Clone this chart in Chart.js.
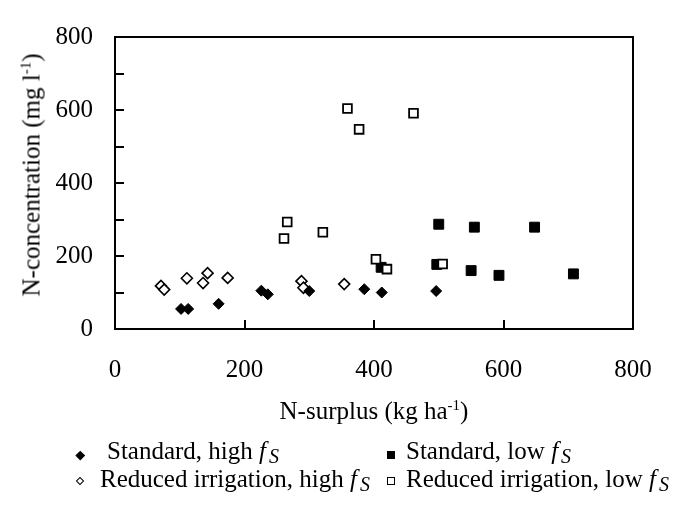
<!DOCTYPE html>
<html>
<head>
<meta charset="utf-8">
<script src="https://cdn.jsdelivr.net/npm/chart.js@4.4.1/dist/chart.umd.min.js"></script>
<style>
    html, body { margin: 0; padding: 0; background: #fff; }
    #wrap { position: relative; width: 679px; height: 510px; font-family: 'Liberation Serif', 'Times New Roman', serif; color: #000; }
    #MyChart { position: absolute; left: 0; top: 0; }
    .atitle { position: absolute; font-size: 25px; line-height: 1; white-space: nowrap; transform: translate(-50%, -50%); }
    .atitle sup { font-size: 0.6em; vertical-align: 0.6em; line-height: 0; }
    #ytitle { left: 31px; top: 175px; transform: translate(-50%, -50%) rotate(-90deg); }
    #xtitle { left: 374px; top: 410px; }
    .item { position: absolute; font-size: 25px; line-height: 25px; white-space: nowrap; }
    .item i { font-style: italic; }
    .item sub { font-size: 0.8em; font-style: italic; vertical-align: -0.2em; line-height: 0; margin-left: 3px; }
    .mark { position: absolute; box-sizing: border-box; }
</style>
</head>
<body>
<div id="wrap">
    <canvas id="MyChart" width="679" height="510"></canvas>
    <div class="atitle" id="ytitle">N-concentration (mg l<sup>-1</sup>)</div>
    <div class="atitle" id="xtitle">N-surplus (kg ha<sup>-1</sup>)</div>
    <div id="legend"></div>
</div>
<script>
// N-surplus (kg/ha) and N-concentration (mg/l)
var stdHighX = [102, 113, 160, 226, 236, 300, 385, 412, 496];
var stdHighY = [55, 55, 69, 105, 95, 104, 109, 100, 104];
var stdLowX = [500, 555, 648, 411, 497, 550, 593, 708];
var stdLowY = [287, 279, 279, 169, 177, 160, 147, 151];
var redHighX = [71, 76, 111, 136, 143, 174, 288, 291, 354];
var redHighY = [118, 108, 139, 126, 153, 140, 131, 113, 123];
var redLowX = [261, 266, 321, 403, 420, 506, 359, 377, 461];
var redLowY = [248, 293, 265, 191, 164, 178, 604, 547, 591];

var seriesNames = ['Standard, high', 'Standard, low', 'Reduced irrigation, high', 'Reduced irrigation, low'];
var axisTicks = [0, 200, 400, 600, 800];

function pts(xs, ys) {
    return xs.map(function (v, i) { return { x: v, y: ys[i] }; });
}

// box round the plot plus the small inward tick marks
var boxTicks = {
    id: 'boxTicks',
    beforeDatasetsDraw: function (chart) {
        var ctx = chart.ctx, a = chart.chartArea, x = chart.scales.x, y = chart.scales.y;
        ctx.save();
        ctx.strokeStyle = '#000';
        ctx.lineWidth = 2;
        ctx.strokeRect(a.left, a.top, a.right - a.left, a.bottom - a.top);
        ctx.beginPath();
        for (var v = 100; v < 800; v += 100) {
            var py = Math.round(y.getPixelForValue(v));
            ctx.moveTo(a.left, py);
            ctx.lineTo(a.left + 9, py);
        }
        for (var k = 1; k < axisTicks.length - 1; k++) {
            var px = Math.round(x.getPixelForValue(axisTicks[k]));
            ctx.moveTo(px, a.bottom);
            ctx.lineTo(px, a.bottom - 9);
        }
        ctx.stroke();
        ctx.restore();
    }
};

Chart.defaults.font.family = "'Liberation Serif', 'Times New Roman', serif";
Chart.defaults.font.size = 25;
Chart.defaults.color = '#000';

var datasets = [
    { label: seriesNames[0], data: pts(stdHighX, stdHighY), pointStyle: 'rectRot', pointRadius: 5.5,
      backgroundColor: '#000', borderColor: '#000', borderWidth: 1, order: 2 },
    { label: seriesNames[1], data: pts(stdLowX, stdLowY), pointStyle: 'rect', pointRadius: 7,
      backgroundColor: '#000', borderColor: '#000', borderWidth: 1, order: 1 },
    { label: seriesNames[2], data: pts(redHighX, redHighY), pointStyle: 'rectRot', pointRadius: 5.5,
      backgroundColor: '#fff', borderColor: '#000', borderWidth: 1.6, order: 3 },
    { label: seriesNames[3], data: pts(redLowX, redLowY), pointStyle: 'rect', pointRadius: 6.2,
      backgroundColor: '#fff', borderColor: '#000', borderWidth: 1.8, order: 0 }
];

var ctx = document.getElementById('MyChart').getContext('2d');
var MyChart = new Chart(ctx, {
    type: 'scatter',
    data: { datasets: datasets },
    options: {
        responsive: false,
        animation: false,
        layout: { padding: { top: 20, right: 46, bottom: 121, left: 0 } },
        plugins: { legend: { display: false }, tooltip: { enabled: false } },
        scales: {
            x: {
                type: 'linear', min: 0, max: 800,
                afterBuildTicks: function (s) { s.ticks = axisTicks.map(function (v) { return { value: v }; }); },
                afterFit: function (s) { s.height = 60; },
                grid: { display: false, drawTicks: false },
                border: { display: false },
                ticks: { padding: 26, maxRotation: 0 }
            },
            y: {
                type: 'linear', min: 0, max: 800,
                afterBuildTicks: function (s) { s.ticks = axisTicks.map(function (v) { return { value: v }; }); },
                afterFit: function (s) { s.width = 115; },
                grid: { display: false, drawTicks: false },
                border: { display: false },
                ticks: { padding: 22 }
            }
        }
    },
    plugins: [boxTicks]
});

// legend below the axis title, with the italic f and subscript S
var legendPlaces = [
    { mx: 80, tx: 107, cy: 455, top: 438 },
    { mx: 391, tx: 406, cy: 455, top: 438 },
    { mx: 80, tx: 100, cy: 481, top: 466 },
    { mx: 391, tx: 406, cy: 481, top: 466 }
];
var legendMarks = [
    { w: 6.5, rot: 45, bg: '#000', bw: 0 },
    { w: 7.5, rot: 0, bg: '#000', bw: 0 },
    { w: 6, rot: 45, bg: '#fff', bw: 1.4 },
    { w: 7.5, rot: 0, bg: '#fff', bw: 1.6 }
];
var legend = document.getElementById('legend');
datasets.forEach(function (ds, i) {
    var p = legendPlaces[i], m = legendMarks[i];
    var mark = document.createElement('div');
    mark.className = 'mark';
    mark.style.width = m.w + 'px';
    mark.style.height = m.w + 'px';
    mark.style.left = (p.mx - m.w / 2) + 'px';
    mark.style.top = (p.cy - m.w / 2) + 'px';
    mark.style.background = m.bg;
    mark.style.border = m.bw ? m.bw + 'px solid #000' : 'none';
    mark.style.transform = 'rotate(' + m.rot + 'deg)';
    legend.appendChild(mark);
    var item = document.createElement('div');
    item.className = 'item';
    item.style.left = p.tx + 'px';
    item.style.top = p.top + 'px';
    item.innerHTML = ds.label + ' <i>f</i><sub>S</sub>';
    legend.appendChild(item);
});
</script>
</body>
</html>
